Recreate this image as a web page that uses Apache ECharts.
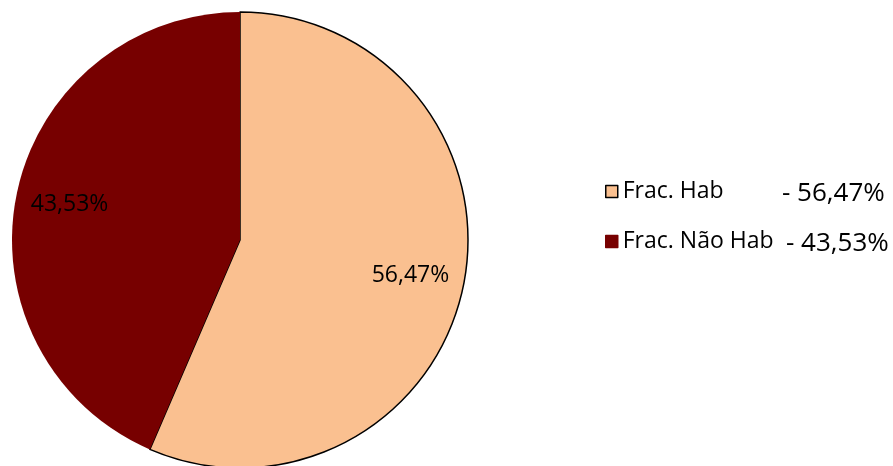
<!DOCTYPE html>
<html>
<head>
<meta charset="utf-8">
<script src="https://cdn.jsdelivr.net/npm/echarts@6/dist/echarts.min.js"></script>
<style>
html,body{margin:0;padding:0;background:#fff;}
#chart{width:893px;height:466px;}
</style>
</head>
<body>
<div id="chart"></div>
<script>
// dados
var categories = ['Frac. Hab', 'Frac. Não Hab'];
var values = [56.47, 43.53];
var valueLabels = ['56,47%', '43,53%'];
var sliceColors = ['#FAC090', '#770000'];

var center = [240, 240];
var radius = 228;
var labelRadius = 174;

var chart = echarts.init(document.getElementById('chart'));

var pieData = categories.map(function (name, i) {
    return {
        name: name,
        value: values[i],
        itemStyle: {
            color: sliceColors[i],
            borderColor: i === 0 ? '#000' : sliceColors[i],
            borderWidth: i === 0 ? 1.5 : 0
        }
    };
});

var option = {
    animation: false,
    legend: {
        orient: 'vertical',
        left: 600,
        top: 175,
        itemWidth: 12,
        itemHeight: 12,
        itemGap: 27,
        itemStyle: {borderWidth: 1.5},
        icon: 'rect',
        textStyle: {
            fontFamily: 'Open Sans',
            fontSize: 23,
            color: '#000'
        },
        data: categories
    },
    // valores ao lado da legenda
    graphic: [
        {type: 'text', left: 782, top: 181, style: {text: '- ' + valueLabels[0], font: '26px "Open Sans"', fill: '#000'}},
        {type: 'text', left: 786, top: 231, style: {text: '- ' + valueLabels[1], font: '26px "Open Sans"', fill: '#000'}}
    ],
    series: [{
        type: 'pie',
        center: center,
        radius: radius,
        startAngle: 90,
        clockwise: true,
        silent: true,
        label: {
            show: true,
            position: 'inside',
            color: '#000',
            fontFamily: 'Open Sans',
            fontSize: 23,
            formatter: function (p) {
                return valueLabels[p.dataIndex];
            }
        },
        labelLine: {show: false},
        // afasta os rótulos para fora, como no original
        labelLayout: function (p) {
            var r = p.labelRect;
            var cx = r.x + r.width / 2 - center[0];
            var cy = r.y + r.height / 2 - center[1];
            var d = Math.sqrt(cx * cx + cy * cy) || 1;
            var k = labelRadius / d - 1;
            return {dx: cx * k, dy: cy * k};
        },
        data: pieData
    }]
};

chart.setOption(option);
</script>
</body>
</html>
